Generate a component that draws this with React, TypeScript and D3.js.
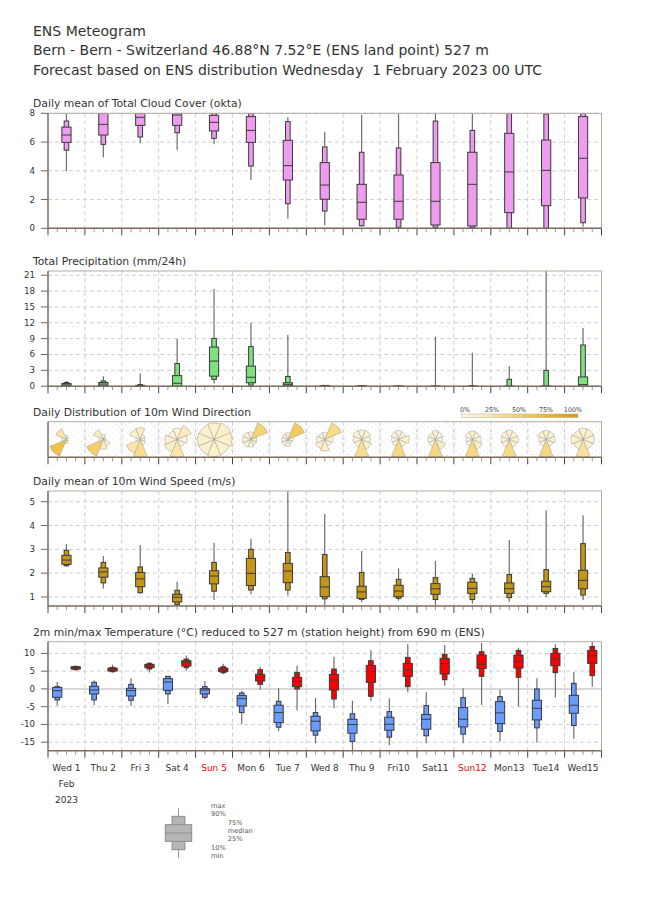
import * as d3 from 'd3';
import { type FC, useEffect, useRef } from 'react';

// ---- data ----
const dayLabels = ['Wed 1', 'Thu 2', 'Fri 3', 'Sat 4', 'Sun 5', 'Mon 6', 'Tue 7', 'Wed 8', 'Thu 9', 'Fri10', 'Sat11', 'Sun12', 'Mon13', 'Tue14', 'Wed15'];
const sundayIdx = [4, 11];
const monthLabels = ['Feb', '2023'];

// each row: [min, p10, p25, median, p75, p90, max]
const cloudCover = [
  [3.99, 5.43, 5.98, 6.49, 7.04, 7.46, 7.95],
  [4.94, 5.84, 6.49, 7.23, 8, 8, 8],
  [5.91, 6.35, 7.16, 7.72, 8, 8, 8],
  [5.45, 6.65, 7.16, 7.88, 8, 8, 8],
  [5.84, 6.26, 6.77, 7.37, 7.86, 8, 8],
  [3.36, 4.33, 5.98, 6.81, 7.77, 8, 8],
  [0.67, 1.71, 3.36, 4.36, 6.12, 7.42, 7.72],
  [0.23, 1.2, 2.02, 3.01, 4.57, 5.66, 6.72],
  [0.1, 0.18, 0.63, 1.81, 3.06, 5.29, 7.88],
  [0, 0.07, 0.63, 1.88, 3.71, 5.59, 8],
  [0, 0.07, 0.23, 1.88, 4.57, 7.46, 8],
  [0, 0.05, 0.16, 3.06, 5.29, 6.81, 8],
  [0, 0, 1.09, 3.92, 6.61, 8, 8],
  [0, 0, 1.57, 4.03, 6.14, 7.95, 8],
  [0.1, 0.39, 2.11, 4.87, 7.77, 8, 8],
];

const precipitation = [
  [0, 0, 0.05, 0.25, 0.5, 0.7, 1.0],
  [0, 0, 0.05, 0.4, 0.7, 1.0, 1.9],
  [0, 0, 0, 0.05, 0.15, 0.3, 2.4],
  [0, 0, 0, 0.55, 2.0, 4.3, 9.0],
  [0.5, 1.3, 1.9, 4.75, 7.4, 9.05, 18.4],
  [0, 0.2, 0.65, 1.7, 3.8, 7.5, 12.0],
  [0, 0, 0.05, 0.35, 0.65, 1.85, 9.7],
  [0, 0, 0, 0.05, 0.1, 0.15, 0.25],
  [0, 0, 0, 0, 0.05, 0.1, 0.2],
  [0, 0, 0, 0, 0, 0.05, 0.15],
  [0, 0, 0, 0, 0, 0, 9.35],
  [0, 0, 0, 0, 0, 0.1, 6.35],
  [0, 0, 0, 0, 0, 1.3, 3.8],
  [0, 0, 0, 0, 0.05, 3.0, 21.8],
  [0, 0, 0, 0.3, 1.75, 7.8, 11.0],
];

const windSpeed = [
  [2.27, 2.31, 2.37, 2.55, 2.75, 2.96, 3.22],
  [1.36, 1.59, 1.83, 2.05, 2.22, 2.45, 2.72],
  [1.13, 1.18, 1.43, 1.76, 2.03, 2.26, 3.18],
  [0.62, 0.68, 0.79, 0.99, 1.11, 1.28, 1.64],
  [0.87, 1.24, 1.55, 1.88, 2.1, 2.45, 3.28],
  [1.11, 1.29, 1.48, 1.99, 2.62, 3.0, 3.43],
  [1.06, 1.29, 1.6, 2.09, 2.41, 2.87, 5.5],
  [0.66, 0.92, 1.01, 1.42, 1.85, 2.78, 4.48],
  [0.79, 0.9, 0.94, 1.21, 1.45, 2.03, 2.93],
  [0.85, 0.94, 1.01, 1.25, 1.49, 1.74, 2.2],
  [0.66, 0.89, 1.11, 1.34, 1.56, 1.81, 2.51],
  [0.71, 0.89, 1.14, 1.36, 1.62, 1.78, 1.98],
  [0.8, 0.97, 1.15, 1.35, 1.59, 1.94, 3.39],
  [0.99, 1.15, 1.22, 1.43, 1.66, 2.15, 4.64],
  [0.87, 1.08, 1.34, 1.7, 2.12, 3.24, 4.43],
];

const tempMin = [
  [-4.7, -3.1, -2.36, -0.49, 0.45, 0.64, 1.95],
  [-4.6, -3.1, -1.42, -0.3, 0.73, 1.87, 2.42],
  [-4.8, -3.2, -1.99, -0.49, 0.17, 1.29, 2.98],
  [-4.23, -1.42, -0.39, 1.95, 2.88, 3.54, 3.73],
  [-2.92, -2.36, -1.42, -0.3, 0.07, 0.64, 2.23],
  [-9.94, -6.67, -4.79, -2.73, -1.89, -1.14, -0.58],
  [-11.82, -10.79, -9.48, -6.67, -4.6, -3.48, 0.17],
  [-15.28, -13.03, -11.82, -9.1, -7.7, -6.67, -2.55],
  [-17.3, -14.8, -12.47, -10.04, -8.54, -7.0, -3.36],
  [-15.9, -13.6, -11.63, -9.94, -7.98, -6.4, -2.6],
  [-15.3, -13.2, -11.35, -8.54, -7.2, -4.7, -0.86],
  [-15.3, -12.75, -10.7, -8.54, -5.26, -2.45, 0.17],
  [-14.8, -12.0, -9.76, -6.76, -3.58, -2.17, -0.21],
  [-15.1, -10.97, -8.73, -5.45, -3.2, -0.02, 2.98],
  [-14.06, -10.3, -6.85, -4.6, -1.8, 1.57, 4.76],
];

const tempMax = [
  [5.22, 5.41, 5.6, 5.97, 6.25, 6.35, 6.54],
  [4.57, 4.85, 5.04, 5.5, 5.88, 6.07, 6.82],
  [4.66, 5.6, 5.97, 6.44, 6.91, 7.19, 7.57],
  [5.04, 5.97, 6.44, 7.38, 7.94, 8.41, 9.44],
  [4.1, 4.57, 4.85, 5.32, 5.88, 6.25, 7.1],
  [-0.21, 1.29, 2.23, 3.26, 4.1, 5.41, 6.16],
  [-6.1, -0.02, 0.64, 2.13, 3.26, 4.66, 6.63],
  [-5.45, -2.83, -0.3, 2.51, 4.1, 5.6, 9.06],
  [-3.4, -2.08, 1.85, 4.85, 6.63, 7.94, 10.9],
  [-0.95, 0.64, 3.54, 5.41, 7.19, 8.88, 12.6],
  [0.92, 2.6, 4.2, 7.19, 8.6, 9.72, 12.34],
  [-4.5, 3.54, 5.79, 7.0, 9.53, 10.47, 12.9],
  [-4.98, 3.26, 5.88, 7.75, 9.53, 10.84, 11.6],
  [-2.45, 4.57, 6.54, 8.41, 10.0, 11.4, 12.6],
  [0.64, 3.73, 7.19, 9.34, 10.84, 11.97, 13.3],
];

// wind direction frequency (%) per sector: N, NE, E, SE, S, SW, W, NW
const windDirFreq = [
  [3, 1, 0, 1, 3, 62, 4, 26],
  [4, 1, 1, 8, 15, 50, 3, 18],
  [15, 3, 2, 4, 35, 25, 2, 14],
  [10, 18, 8, 5, 25, 15, 12, 7],
  [12, 14, 14, 12, 13, 12, 12, 11],
  [8, 45, 5, 5, 8, 10, 10, 9],
  [8, 55, 5, 4, 8, 8, 6, 6],
  [6, 38, 8, 6, 16, 12, 8, 6],
  [10, 10, 8, 12, 35, 7, 8, 10],
  [10, 8, 14, 8, 40, 6, 6, 8],
  [10, 8, 6, 15, 40, 7, 7, 7],
  [9, 8, 10, 14, 40, 6, 5, 8],
  [10, 9, 10, 8, 38, 8, 8, 9],
  [10, 10, 10, 7, 40, 6, 7, 10],
  [12, 12, 12, 10, 30, 10, 14, 10],
];
const windDirLegend = ['0%', '25%', '50%', '75%', '100%'];
const legendLabels = ['min', '10%', '25%', 'median', '75%', '90%', 'max'];

type Sel = d3.Selection<SVGGElement, unknown, null, undefined>;

const FONT = 'DejaVu Sans, Verdana, sans-serif';
const X0 = 48;
const X1 = 601.5;

const App: FC = () => {
  const svgRef = useRef<SVGSVGElement>(null);

  useEffect(() => {
    if (!svgRef.current) return;
    const svg = d3.select(svgRef.current);
    svg.selectAll('*').remove();
    const defs = svg.append('defs');

    const x = d3.scaleLinear().domain([0, 360]).range([X0, X1]);
    const hours = d3.range(0, 361, 6);
    const dayBounds = d3.range(24, 360, 24);

    // header
    const header = [
      { t: 'ENS Meteogram', y: 36 },
      { t: 'Bern - Bern - Switzerland 46.88°N 7.52°E (ENS land point) 527 m', y: 55 },
      { t: 'Forecast based on ENS distribution Wednesday\u00a0 1 February 2023 00 UTC', y: 75 },
    ];
    svg.selectAll('.hdr')
      .data(header)
      .join('text')
      .attr('x', 33)
      .attr('y', (d) => d.y)
      .attr('font-size', 14)
      .attr('fill', '#333')
      .text((d) => d.t);

    let clipId = 0;
    const panel = (
      top: number,
      bottom: number,
      title: string,
      domain: [number, number] | null,
      ticks: number[],
    ) => {
      const g: Sel = svg.append('g');
      g.append('text')
        .attr('x', 33)
        .attr('y', top - 6)
        .attr('font-size', 10.8)
        .attr('fill', '#333')
        .text(title);

      const y = d3.scaleLinear().domain(domain || [0, 1]).range([bottom, top]);

      // grid
      g.selectAll('.vg')
        .data(dayBounds)
        .join('line')
        .attr('x1', (d) => x(d))
        .attr('x2', (d) => x(d))
        .attr('y1', top)
        .attr('y2', bottom)
        .attr('stroke', '#cfcfcf')
        .attr('stroke-dasharray', '4,3');
      g.selectAll('.hg')
        .data(ticks)
        .join('line')
        .attr('x1', X0)
        .attr('x2', X1)
        .attr('y1', (d) => y(d))
        .attr('y2', (d) => y(d))
        .attr('stroke', '#cfcfcf')
        .attr('stroke-dasharray', '4,3');

      // y ticks
      g.selectAll('.yt')
        .data(ticks)
        .join('line')
        .attr('x1', 41)
        .attr('x2', X0)
        .attr('y1', (d) => y(d))
        .attr('y2', (d) => y(d))
        .attr('stroke', '#666');
      g.selectAll('.yl')
        .data(ticks)
        .join('text')
        .attr('x', 35)
        .attr('y', (d) => y(d) + 3)
        .attr('text-anchor', 'end')
        .attr('font-size', 8.7)
        .attr('fill', '#333')
        .text((d) => `${d}`);

      // bottom ticks
      g.selectAll('.xt')
        .data(hours)
        .join('line')
        .attr('x1', (d) => x(d))
        .attr('x2', (d) => x(d))
        .attr('y1', bottom)
        .attr('y2', (d) => bottom + (d % 24 === 0 ? 7 : 4))
        .attr('stroke', (d) => (d % 24 === 0 ? '#444' : '#999'));

      const id = `clip${clipId++}`;
      defs.append('clipPath')
        .attr('id', id)
        .append('rect')
        .attr('x', X0)
        .attr('y', top)
        .attr('width', X1 - X0)
        .attr('height', bottom - top);
      const body = g.append('g').attr('clip-path', `url(#${id})`);

      const frame = () => {
        g.append('line').attr('x1', X0).attr('x2', X1).attr('y1', top).attr('y2', top)
          .attr('stroke', '#b3aa9f');
        g.append('line').attr('x1', X1).attr('x2', X1).attr('y1', top).attr('y2', bottom)
          .attr('stroke', '#b3aa9f');
        g.append('line').attr('x1', X0).attr('x2', X0).attr('y1', top).attr('y2', bottom)
          .attr('stroke', '#7a6c5e').attr('stroke-width', 1.5);
        g.append('line').attr('x1', X0).attr('x2', X1).attr('y1', bottom).attr('y2', bottom)
          .attr('stroke', '#7a6c5e').attr('stroke-width', 1.5);
      };
      return { g, body, y, frame };
    };

    const drawBoxes = (
      body: Sel,
      data: number[][],
      y: d3.ScaleLinear<number, number>,
      hourOffset: number,
      fill: string,
    ) => {
      const wide = x(6) - x(0);
      const narrow = x(3) - x(0);
      const cx = (i: number) => x(i * 24 + hourOffset);
      const bx = body.append('g');
      bx.selectAll('.wh')
        .data(data)
        .join('line')
        .attr('x1', (_, i) => cx(i))
        .attr('x2', (_, i) => cx(i))
        .attr('y1', (d) => y(d[0]))
        .attr('y2', (d) => y(d[6]))
        .attr('stroke', '#6e6e6e')
        .attr('stroke-width', 1.2);
      bx.selectAll('.nb')
        .data(data)
        .join('rect')
        .attr('x', (_, i) => cx(i) - narrow / 2)
        .attr('width', narrow)
        .attr('y', (d) => y(d[5]))
        .attr('height', (d) => Math.max(0.5, y(d[1]) - y(d[5])))
        .attr('fill', fill)
        .attr('stroke', '#3a3a3a')
        .attr('stroke-width', 1);
      bx.selectAll('.wb')
        .data(data)
        .join('rect')
        .attr('x', (_, i) => cx(i) - wide / 2)
        .attr('width', wide)
        .attr('y', (d) => y(d[4]))
        .attr('height', (d) => Math.max(0.5, y(d[2]) - y(d[4])))
        .attr('fill', fill)
        .attr('stroke', '#3a3a3a')
        .attr('stroke-width', 1);
      bx.selectAll('.md')
        .data(data)
        .join('line')
        .attr('x1', (_, i) => cx(i) - wide / 2)
        .attr('x2', (_, i) => cx(i) + wide / 2)
        .attr('y1', (d) => y(d[3]))
        .attr('y2', (d) => y(d[3]))
        .attr('stroke', '#3a3a3a');
    };

    // 1. cloud cover
    const p1 = panel(113.3, 228.3, 'Daily mean of Total Cloud Cover (okta)', [0, 8], [0, 2, 4, 6, 8]);
    drawBoxes(p1.body, cloudCover, p1.y, 12, '#ee9cee');
    p1.frame();

    // 2. precipitation
    const p2 = panel(271, 386.2, 'Total Precipitation (mm/24h)', [0, 21.8], [0, 3, 6, 9, 12, 15, 18, 21]);
    drawBoxes(p2.body, precipitation, p2.y, 12, '#7ee07e');
    p2.frame();

    // 3. wind direction
    const p3 = panel(421.7, 457.3, 'Daily Distribution of 10m Wind Direction', null, []);
    const pat = defs.append('pattern')
      .attr('id', 'dots')
      .attr('width', 7)
      .attr('height', 6)
      .attr('patternUnits', 'userSpaceOnUse');
    pat.append('circle').attr('cx', 1).attr('cy', 1).attr('r', 0.45).attr('fill', '#bdbdbd');
    pat.append('circle').attr('cx', 4.5).attr('cy', 4).attr('r', 0.45).attr('fill', '#c8c8c8');
    p3.body.append('rect')
      .attr('x', X0).attr('y', 421.7).attr('width', X1 - X0).attr('height', 457.3 - 421.7)
      .attr('fill', 'url(#dots)');
    const cy = (421.7 + 457.3) / 2;
    const rMax = 18;
    p3.body.selectAll('.ring')
      .data(windDirFreq)
      .join('circle')
      .attr('cx', (_, i) => x(i * 24 + 12))
      .attr('cy', cy)
      .attr('r', 20)
      .attr('fill', 'none')
      .attr('stroke', '#bdbdbd')
      .attr('stroke-width', 0.7)
      .attr('stroke-dasharray', '1,2.5');
    const dirColor = d3.scaleLinear<string>()
      .domain([0, 25, 50, 75, 100])
      .range(['#fffaf0', '#fbe6a8', '#f3cf68', '#e8b52a', '#d39b0c']);
    const arc = d3.arc<{ r: number; k: number }>()
      .innerRadius(0)
      .outerRadius((d) => d.r)
      .startAngle((d) => ((d.k * 45 - 22.5) * Math.PI) / 180)
      .endAngle((d) => ((d.k * 45 + 22.5) * Math.PI) / 180);
    windDirFreq.forEach((freqs, i) => {
      const fMax = d3.max(freqs) || 1;
      const rose = p3.body.append('g').attr('transform', `translate(${x(i * 24 + 12)},${cy})`);
      rose.selectAll('path')
        .data(freqs.map((f, k) => ({ f, k, r: rMax * Math.sqrt(f / fMax) })))
        .join('path')
        .attr('d', (d) => arc(d) || '')
        .attr('fill', (d) => dirColor(d.f))
        .attr('stroke', '#9a9a9a')
        .attr('stroke-width', 0.5);
    });
    p3.frame();
    // colour bar
    const cb = d3.scaleLinear().domain([0, 100]).range([461.7, 578]);
    const grad = defs.append('linearGradient').attr('id', 'cbar');
    [0, 25, 50, 75, 100].forEach((v) => {
      grad.append('stop').attr('offset', `${v}%`).attr('stop-color', dirColor(v));
    });
    svg.append('rect')
      .attr('x', cb(0)).attr('y', 414).attr('width', cb(100) - cb(0)).attr('height', 3.5)
      .attr('fill', 'url(#cbar)').attr('stroke', '#aaa').attr('stroke-width', 0.5);
    svg.selectAll('.cbl')
      .data(windDirLegend)
      .join('text')
      .attr('x', (_, i) => 465 + i * 27)
      .attr('y', 411.5)
      .attr('text-anchor', 'middle')
      .attr('font-size', 6.4)
      .attr('fill', '#444')
      .text((d) => d);

    // 4. wind speed
    const p4 = panel(491, 606, 'Daily mean of 10m Wind Speed (m/s)', [0.62, 5.45], [1, 2, 3, 4, 5]);
    drawBoxes(p4.body, windSpeed, p4.y, 12, '#c39518');
    p4.frame();

    // 5. temperature
    const p5 = panel(641.7, 750.7, '2m min/max Temperature (°C) reduced to 527 m (station height) from 690 m (ENS)', [-17.4, 13.3], [-15, -10, -5, 0, 5, 10]);
    p5.body.append('line')
      .attr('x1', X0).attr('x2', X1).attr('y1', p5.y(0)).attr('y2', p5.y(0))
      .attr('stroke', '#d8d8d8').attr('stroke-width', 2);
    drawBoxes(p5.body, tempMin, p5.y, 6, '#6a9cff');
    drawBoxes(p5.body, tempMax, p5.y, 18, '#ff0000');
    p5.frame();

    // day labels
    svg.selectAll('.dl')
      .data(dayLabels)
      .join('text')
      .attr('x', (_, i) => x(i * 24 + 12))
      .attr('y', 770.5)
      .attr('text-anchor', 'middle')
      .attr('font-size', 9)
      .attr('fill', (_, i) => (sundayIdx.includes(i) ? '#ff0000' : '#333'))
      .text((d) => d);
    svg.selectAll('.ml')
      .data(monthLabels)
      .join('text')
      .attr('x', x(12))
      .attr('y', (_, i) => 786.5 + i * 16)
      .attr('text-anchor', 'middle')
      .attr('font-size', 9)
      .attr('fill', '#333')
      .text((d) => d);

    // legend box
    const ly = d3.scaleLinear().domain([0, 6]).range([858, 808]);
    const lx = 178.5;
    const lg = svg.append('g');
    lg.append('line').attr('x1', lx).attr('x2', lx).attr('y1', ly(0)).attr('y2', ly(6))
      .attr('stroke', '#999');
    lg.append('rect').attr('x', lx - 6.4).attr('width', 12.8).attr('y', ly(5)).attr('height', ly(1) - ly(5))
      .attr('fill', '#b5b5b5').attr('stroke', '#8c8c8c');
    lg.append('rect').attr('x', lx - 13.2).attr('width', 26.4).attr('y', ly(4)).attr('height', ly(2) - ly(4))
      .attr('fill', '#b5b5b5').attr('stroke', '#8c8c8c');
    lg.append('line').attr('x1', lx - 13.2).attr('x2', lx + 13.2).attr('y1', ly(3)).attr('y2', ly(3))
      .attr('stroke', '#8c8c8c');
    lg.selectAll('text')
      .data(legendLabels)
      .join('text')
      .attr('x', (_, i) => (i >= 2 && i <= 4 ? 227.7 : 211))
      .attr('y', (_, i) => ly(i))
      .attr('font-size', 6.7)
      .attr('fill', '#555')
      .text((d) => d);
  }, []);

  return (
    <svg
      ref={svgRef}
      width={650}
      height={916}
      style={{ position: 'absolute', left: 0, top: 0, fontFamily: FONT, background: '#fff' }}
    />
  );
};

export default App;
